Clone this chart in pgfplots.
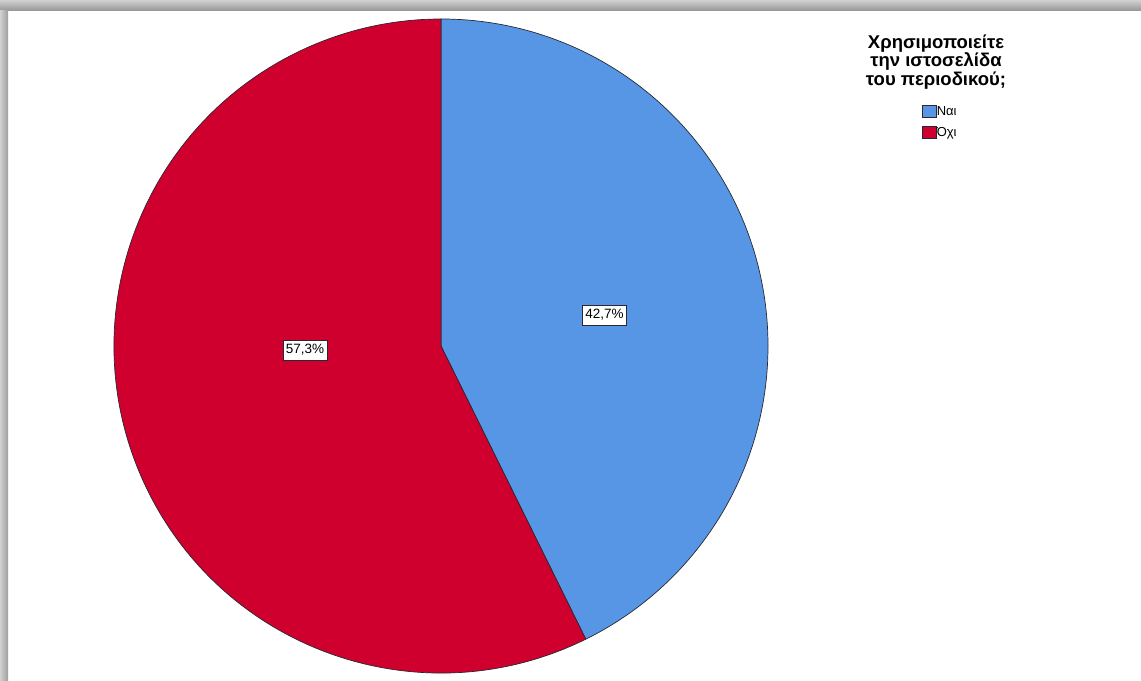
\documentclass[border=0pt]{standalone}
\usepackage{pgfplots}
\pgfplotsset{compat=1.18}
\usepackage{fontspec}
\setmainfont{Liberation Sans}
\definecolor{naiblue}{RGB}{86,150,228}
\definecolor{oxired}{RGB}{208,0,46}
\definecolor{edge}{RGB}{40,40,50}
% pie data (percent)
\def\valNai{42.7}
\def\valOxi{57.3}
\begin{document}
\begin{tikzpicture}
\begin{axis}[
  scale only axis, width=1141bp, height=681bp,
  xmin=0, xmax=1141, ymin=0, ymax=681,
  hide axis, clip=false,
  legend style={at={(0.8081,0.8458)}, anchor=north west, draw=none, fill=none,
    inner sep=0pt, outer sep=0pt, font=\fontsize{13bp}{15bp}\selectfont,
    row sep=8.5bp, nodes={inner sep=0.6bp}},
  legend cell align=left,
  legend image code/.code={\draw[#1, line width=0.6pt] (0bp,-5.5bp) rectangle (13.5bp,6.5bp);},
]
% frame shadow
\fill[top color=black!18, bottom color=black!42, draw=none] (axis cs:0,670) rectangle (axis cs:1141,681);
\fill[left color=black!18, right color=black!38, draw=none] (axis cs:0,0) rectangle (axis cs:8,670);
% pie
\pgfmathsetmacro{\angEnd}{90-3.6*\valNai}
\pgfmathsetmacro{\angEndB}{\angEnd-3.6*\valOxi}
\filldraw[fill=naiblue, draw=edge, line width=0.7bp, line join=round]
  (axis cs:441,335) -- ++(90:327bp) arc[start angle=90, end angle=\angEnd, radius=327bp] -- cycle;
\filldraw[fill=oxired, draw=edge, line width=0.7bp, line join=round]
  (axis cs:441,335) -- ++(\angEnd:327bp) arc[start angle=\angEnd, end angle=\angEndB, radius=327bp] -- cycle;
% value labels
\node[fill=white, draw=edge, line width=0.6bp, inner xsep=3bp, inner ysep=4bp, text height=9.5bp, text depth=2.5bp,
  font=\fontsize{13.5bp}{15bp}\selectfont] at (axis cs:604.5,365.5) {42,7\%};
\node[fill=white, draw=edge, line width=0.6bp, inner xsep=3bp, inner ysep=4bp, text height=9.5bp, text depth=2.5bp,
  font=\fontsize{13.5bp}{15bp}\selectfont] at (axis cs:305,331) {57,3\%};
% legend title
\node[anchor=base, font=\fontsize{18.5bp}{19bp}\selectfont\bfseries, inner sep=0pt] at (axis cs:936,632.7) {Χρησιμοποιείτε};
\node[anchor=base, font=\fontsize{18.5bp}{19bp}\selectfont\bfseries, inner sep=0pt] at (axis cs:936,614) {την ιστοσελίδα};
\node[anchor=base, font=\fontsize{18.5bp}{19bp}\selectfont\bfseries, inner sep=0pt] at (axis cs:936,595.5) {του περιοδικού;};
% legend entries
\addlegendimage{fill=naiblue, draw=edge}
\addlegendentry{Ναι}
\addlegendimage{fill=oxired, draw=edge}
\addlegendentry{Όχι}
\end{axis}
\pgfresetboundingbox
\path (current axis.south west) rectangle (current axis.north east);
\end{tikzpicture}
\end{document}
